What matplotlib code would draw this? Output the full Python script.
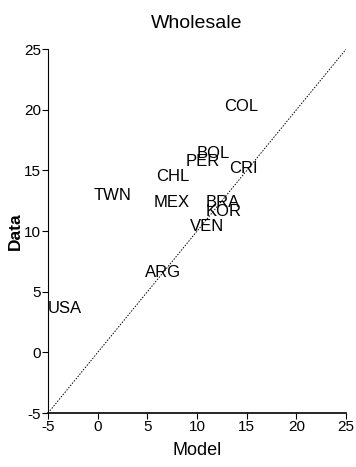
import matplotlib
matplotlib.use("Agg")
import matplotlib.pyplot as plt

plt.rcParams["font.family"] = ["Liberation Sans", "DejaVu Sans"]
plt.rcParams["axes.unicode_minus"] = False

# country labels and their (model, data) positions
countries = ["COL", "BOL", "PER", "CRI", "CHL", "MEX", "BRA", "KOR",
             "VEN", "TWN", "ARG", "USA"]
model = [14.4, 11.6, 10.6, 14.7, 7.6, 7.4, 12.6, 12.7, 11.0, 1.5, 6.6, -3.3]
data = [20.3, 16.4, 15.7, 15.2, 14.5, 12.4, 12.4, 11.6, 10.4, 12.9, 6.6, 3.6]

ticks = [-5, 0, 5, 10, 15, 20, 25]
lims = [-5, 25]

fig = plt.figure(figsize=(3.56, 4.67), dpi=100)
ax = fig.add_axes([0.135, 0.1156, 0.837, 0.779])

ax.plot(lims, lims, color="black", linestyle=(0, (1.5, 1.5)), linewidth=0.7)
for name, x, y in zip(countries, model, data):
    ax.text(x, y, name, ha="center", va="center", fontsize=12)

ax.set_xlim(lims)
ax.set_ylim(lims)
ax.set_xticks(ticks)
ax.set_yticks(ticks)
ax.tick_params(direction="out", length=4, width=0.8, labelsize=11, pad=1)
ax.spines["top"].set_visible(False)
ax.spines["right"].set_visible(False)
ax.spines["bottom"].set_linewidth(1.2)
ax.spines["left"].set_linewidth(0.8)

ax.set_xlabel("Model", fontsize=13, labelpad=6)
ax.set_ylabel("Data", fontsize=12.5, fontweight="bold", labelpad=1)
ax.set_title("Wholesale", fontsize=14, pad=15)

fig.savefig("out.png", dpi=100)
